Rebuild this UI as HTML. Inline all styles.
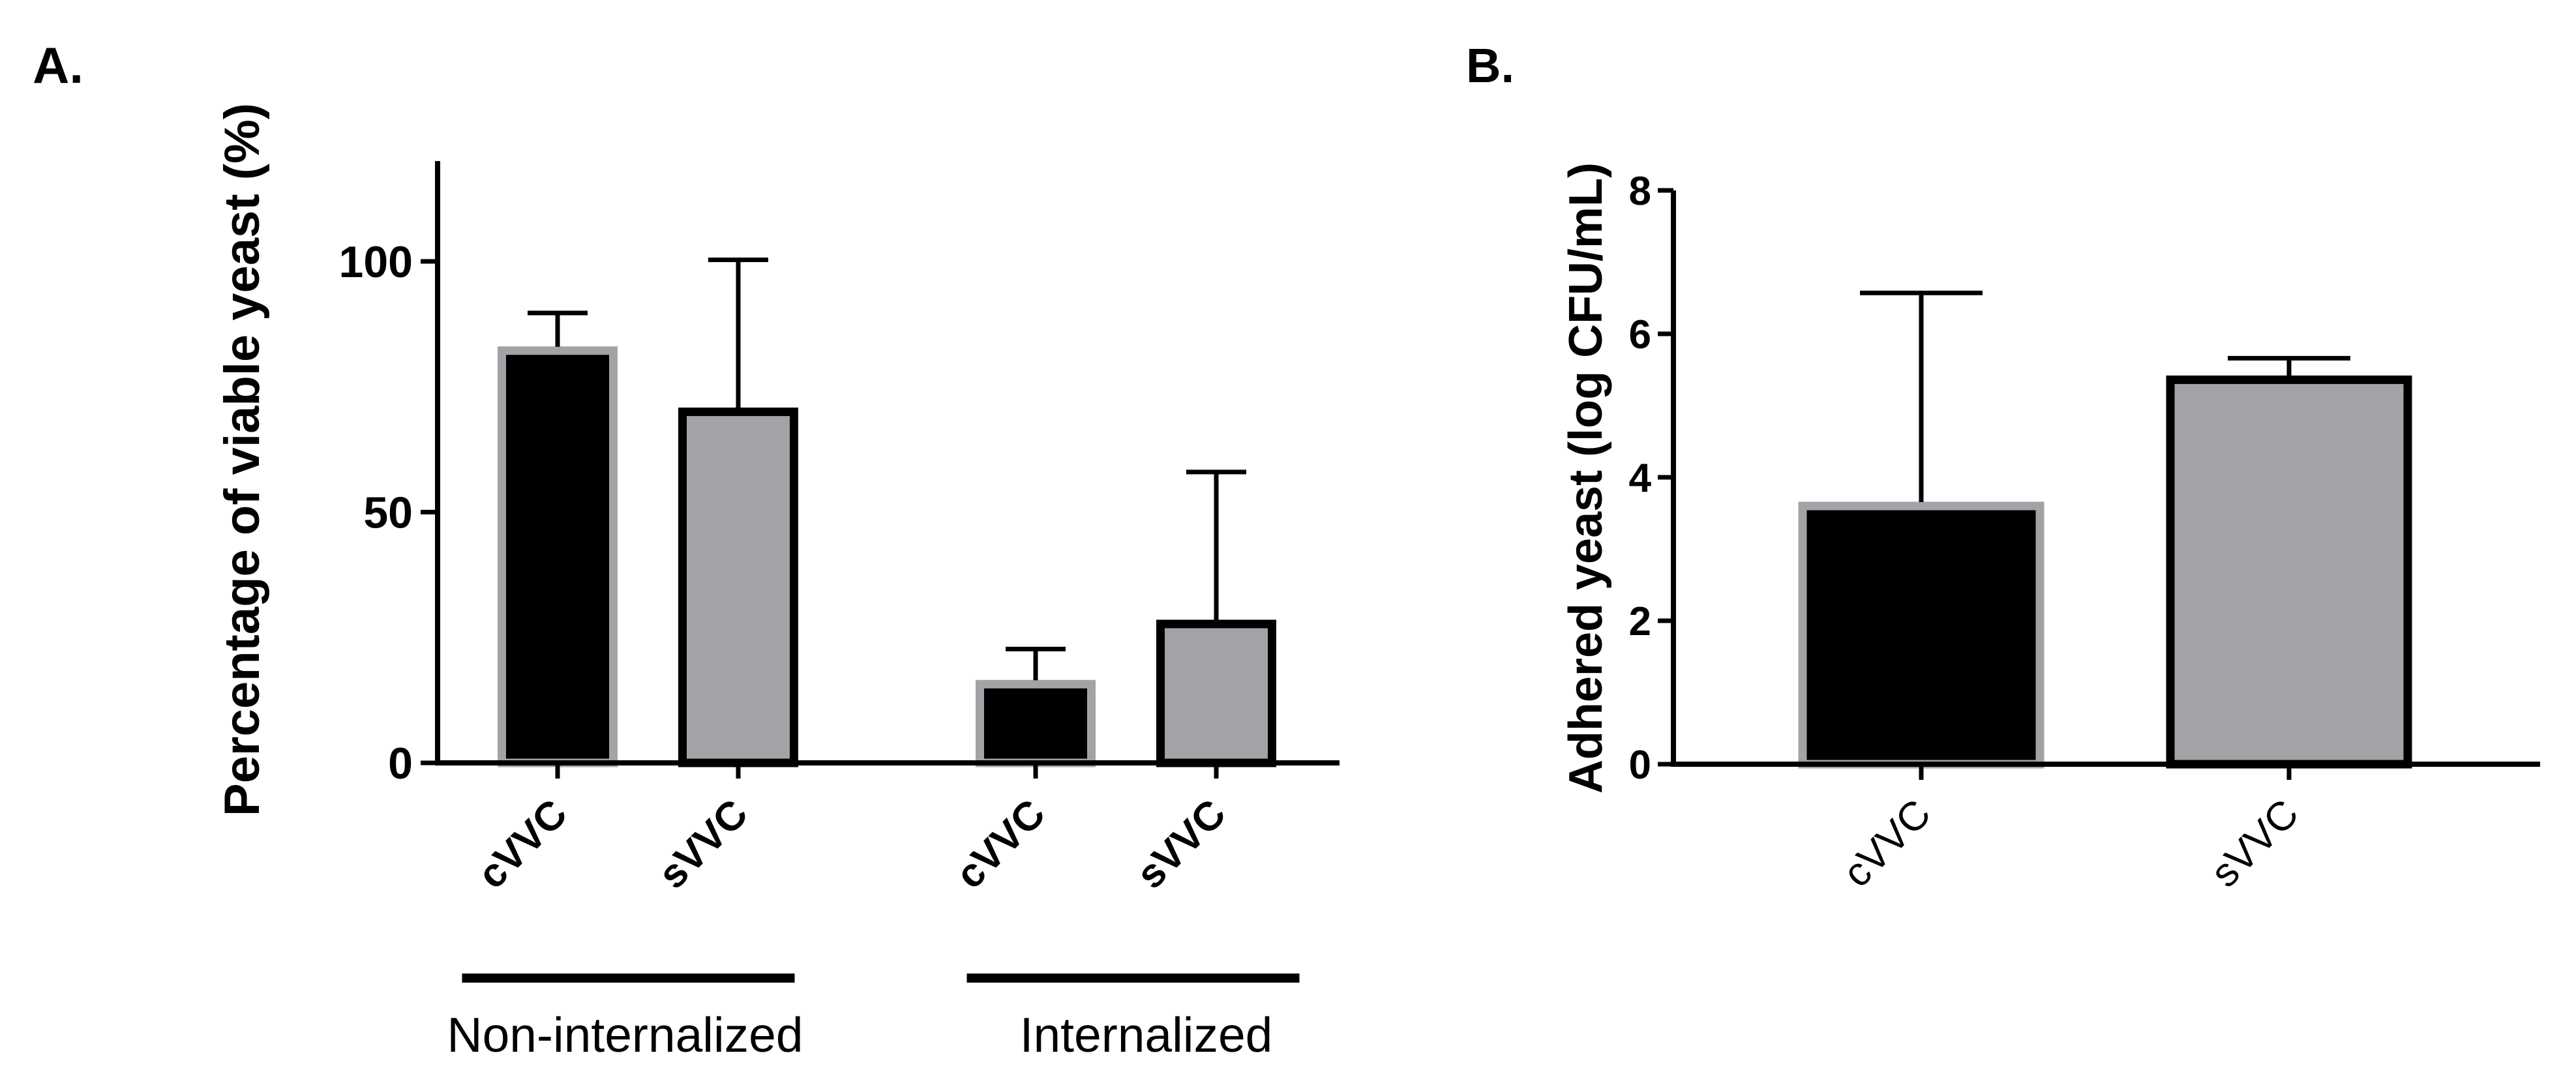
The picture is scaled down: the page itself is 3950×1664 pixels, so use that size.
<!DOCTYPE html>
<html><head><meta charset="utf-8"><style>
html,body{margin:0;padding:0;background:#fff;}
svg{display:block;font-family:"Liberation Sans",sans-serif;}
</style></head><body>
<svg id="fig" width="3950" height="1664" viewBox="0 0 3950 1664">
<rect width="3950" height="1664" fill="#fff"/>
<text x="50" y="127" font-size="78" font-weight="bold">A.</text>
<text x="2248" y="126" font-size="74" font-weight="bold">B.</text>
<g id="chartA"></g>
<g id="chartB"></g>
</svg>
<script>
// ---- Chart A data ----
const aCategories = ["cVVC","sVVC","cVVC","sVVC"];
const aGroupIndex = [0,0,1,1];
const aWithinIndex = [0,1,0,1];
const aValues = [82.2, 70.0, 15.7, 27.7];
const aErrors = [89.7, 100.3, 22.7, 58.0];
const aTicks = [0, 50, 100];
const aGroups = ["Non-internalized","Internalized"];
// ---- Chart B data ----
const bCategories = ["cVVC","sVVC"];
const bValues = [3.6, 5.36];
const bErrors = [6.57, 5.66];
const bTicks = [0, 2, 4, 6, 8];

const NS = "http://www.w3.org/2000/svg";
function mk(tag, attrs, parent, txt){
  const e = document.createElementNS(NS, tag);
  for (const k in attrs) e.setAttribute(k, attrs[k]);
  if (txt !== undefined) e.textContent = txt;
  parent.appendChild(e);
  return e;
}
const GREY = "#a3a2a6";

// ===== Chart A =====
(function(){
  const g = document.getElementById("chartA");
  const y0 = 1170, yTop = 247, yMax = 120;
  const yA = v => y0 - v / yMax * (y0 - yTop);
  const xA = i => 855 + aGroupIndex[i] * 733 + aWithinIndex[i] * 277;
  const axX = 671;
  aValues.forEach((v, i) => {
    const cx = xA(i);
    const black = aCategories[i] === "cVVC";
    const r = mk("rect", {x: cx - 85.5, y: yA(v), width: 171, height: y0 - yA(v),
      fill: black ? "#000" : GREY, stroke: black ? GREY : "#000", "stroke-width": 13}, g);
    
    
    const el = mk("path", {d: `M${cx},${yA(v)-6}V${yA(aErrors[i])}M${cx-46},${yA(aErrors[i])}H${cx+46}`,
      stroke: "#000", "stroke-width": 7, fill: "none"}, g);
    
    
    const tk = mk("line", {x1: cx, x2: cx, y1: y0, y2: y0 + 24, stroke: "#000", "stroke-width": 7}, g);
    
    
    const lb = mk("text", {x: cx + 18, y: 1252, "font-size": 62, "font-weight": "bold", "text-anchor": "end",
      transform: `rotate(-45 ${cx + 18} 1252)`}, g, aCategories[i]);
    
    
  });
  const ax = mk("path", {d: `M${axX},${yTop}V${y0}H2054`, stroke: "#000", "stroke-width": 8, fill: "none"}, g);
  
  
  aTicks.forEach(t => {
    const l = mk("line", {x1: axX - 26, x2: axX, y1: yA(t), y2: yA(t), stroke: "#000", "stroke-width": 7}, g);
    
    
    const tx = mk("text", {x: 633, y: yA(t) + 24, "font-size": 68, "font-weight": "bold", "text-anchor": "end"}, g, String(t));
    
    
  });
  const yt = mk("text", {x: 397, y: 705, "font-size": 76, "font-weight": "bold", "text-anchor": "middle",
    transform: "rotate(-90 397 705)"}, g, "Percentage of viable yeast (%)");
  
  
  const lineOff = [-30, 11], textOff = [-35, 31];
  aGroups.forEach((name, gi) => {
    const idx = aGroupIndex.map((v, i) => v === gi ? i : -1).filter(i => i >= 0);
    const xs = idx.map(xA);
    const mid = (Math.min(...xs) + Math.max(...xs)) / 2;
    const lc = mid + lineOff[gi];
    const ln = mk("line", {x1: lc - 255, x2: lc + 255, y1: 1500, y2: 1500, stroke: "#000", "stroke-width": 14}, g);
    
    
    const tt = mk("text", {x: mid + textOff[gi], y: 1613, "font-size": 75, "text-anchor": "middle"}, g, name);
    
    
  });
})();

// ===== Chart B =====
(function(){
  const g = document.getElementById("chartB");
  const y0 = 1172, yMax = 8, yTopV = 292;
  const yB = v => y0 - v / yMax * (y0 - yTopV);
  const xB = i => 2946 + i * 564;
  const axX = 2566;
  bValues.forEach((v, i) => {
    const cx = xB(i);
    const black = i === 0;
    const r = mk("rect", {x: cx - 182, y: yB(v), width: 364, height: y0 - yB(v),
      fill: black ? "#000" : GREY, stroke: black ? GREY : "#000", "stroke-width": 13}, g);
    
    
    const el = mk("path", {d: `M${cx},${yB(v)-6}V${yB(bErrors[i])}M${cx-94},${yB(bErrors[i])}H${cx+94}`,
      stroke: "#000", "stroke-width": 7, fill: "none"}, g);
    
    
    const tk = mk("line", {x1: cx, x2: cx, y1: y0, y2: y0 + 24, stroke: "#000", "stroke-width": 7}, g);
    
    
    const lb = mk("text", {x: cx + 18, y: 1252, "font-size": 62, "text-anchor": "end",
      transform: `rotate(-45 ${cx + 18} 1252)`}, g, bCategories[i]);
    
    
  });
  const ax = mk("path", {d: `M${axX},${yTopV}V${y0}H3895`, stroke: "#000", "stroke-width": 8, fill: "none"}, g);
  
  
  bTicks.forEach(t => {
    const l = mk("line", {x1: axX - 24, x2: axX, y1: yB(t), y2: yB(t), stroke: "#000", "stroke-width": 7}, g);
    
    
    const tx = mk("text", {x: 2532, y: yB(t) + 22, "font-size": 62, "font-weight": "bold", "text-anchor": "end"}, g, String(t));
    
    
  });
  const yt = mk("text", {x: 2456, y: 733, "font-size": 72, "font-weight": "bold", "text-anchor": "middle",
    transform: "rotate(-90 2456 733)"}, g, "Adhered yeast (log CFU/mL)");
  
  
})();
</script>
</body></html>
